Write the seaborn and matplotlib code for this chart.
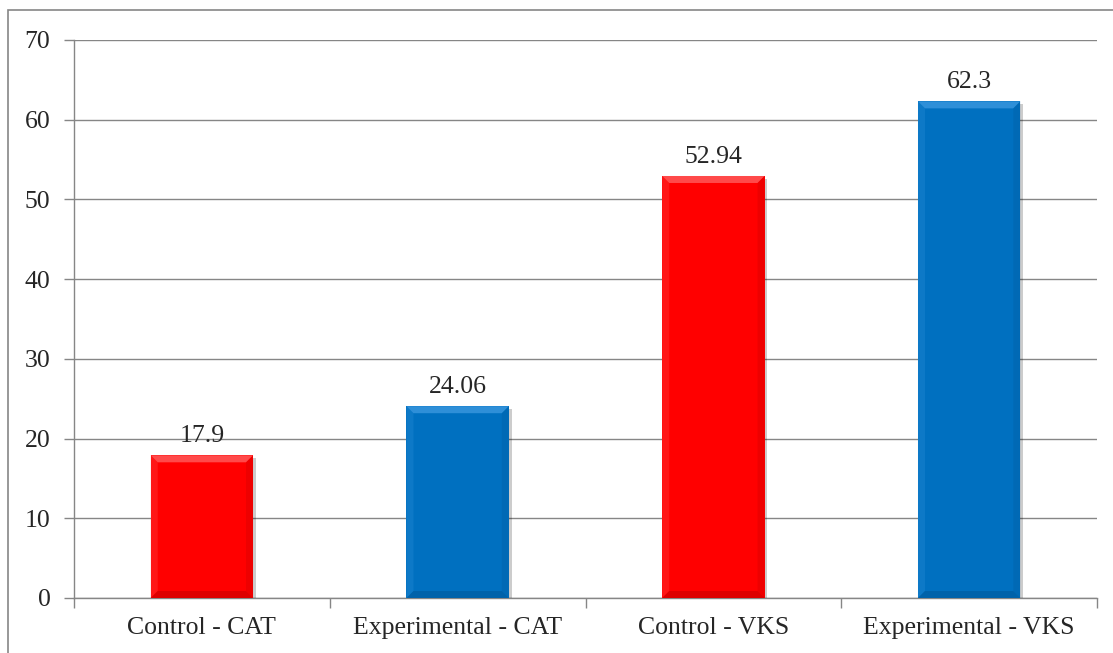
import matplotlib
matplotlib.use("Agg")
import matplotlib.pyplot as plt
import matplotlib.patheffects as pe
from matplotlib.patches import Rectangle, Polygon
from matplotlib.transforms import IdentityTransform
import pandas as pd
import seaborn as sns

# Chart data
groups = ["Control - CAT", "Experimental - CAT", "Control - VKS", "Experimental - VKS"]
scores = [17.9, 24.06, 52.94, 62.3]
labels = ["17.9", "24.06", "52.94", "62.3"]
bar_colors = ["#FF0000", "#0070C0", "#FF0000", "#0070C0"]
light_colors = ["#FF4A4A", "#2E8FD8", "#FF4A4A", "#2E8FD8"]
dark_colors = ["#C80000", "#005A9C", "#C80000", "#005A9C"]

df = pd.DataFrame({"group": groups, "score": scores})

sns.set_style("white")
plt.rcParams["font.family"] = ["Liberation Serif", "DejaVu Serif"]

fig = plt.figure(figsize=(11.13, 6.53), dpi=100)
ax = fig.add_axes([74 / 1113, 1 - 598 / 653, (1097 - 74) / 1113, (598 - 40) / 653])

sns.barplot(data=df, x="group", y="score", hue="group", palette=bar_colors,
            legend=False, width=0.4, ax=ax, saturation=1, zorder=3,
            edgecolor="none")

for p in ax.patches:
    p.set_path_effects([pe.SimplePatchShadow(offset=(2, -2), shadow_rgbFace="#000000", alpha=0.2),
                        pe.Normal()])

ax.set_ylim(0, 70)
ax.set_xlim(-0.5, 3.5)
ax.set_yticks(range(0, 71, 10))
ax.yaxis.grid(True, color="#868686", linewidth=1.0, zorder=0)
ax.set_axisbelow(True)
ax.set_xlabel("")
ax.set_ylabel("")

# tick marks between categories, like the original
ax.set_xticks([-0.5, 0.5, 1.5, 2.5, 3.5], minor=True)
ax.tick_params(axis="x", which="major", length=0, pad=14, labelsize=18.5)
ax.tick_params(axis="x", which="minor", length=7, width=1, color="#868686", direction="out", bottom=True)
ax.tick_params(axis="y", length=7, width=1, color="#868686", direction="out", left=True,
               pad=10, labelsize=18.5)

for side in ["top", "right"]:
    ax.spines[side].set_visible(False)
for side in ["left", "bottom"]:
    ax.spines[side].set_color("#868686")
    ax.spines[side].set_linewidth(1.0)

for c, lab in zip(ax.containers, [[l] for l in labels]):
    ax.bar_label(c, labels=lab, padding=6, fontsize=18.5)

# bevel highlight on each bar, derived from the drawn patches
fig.canvas.draw()
bev = 7
for p, lc, dc in zip(ax.patches, light_colors, dark_colors):
    bb = p.get_window_extent()
    x0, y0, x1, y1 = bb.x0, bb.y0, bb.x1, bb.y1
    top = Polygon([(x0, y1), (x1, y1), (x1 - bev, y1 - bev), (x0 + bev, y1 - bev)],
                  closed=True, facecolor=lc, edgecolor="none", transform=IdentityTransform(), zorder=4)
    left = Polygon([(x0, y1), (x0 + bev, y1 - bev), (x0 + bev, y0 + bev), (x0, y0)],
                   closed=True, facecolor=lc, edgecolor="none", alpha=0.3,
                   transform=IdentityTransform(), zorder=4)
    right = Polygon([(x1, y1), (x1 - bev, y1 - bev), (x1 - bev, y0 + bev), (x1, y0)],
                    closed=True, facecolor=dc, edgecolor="none", alpha=0.3,
                    transform=IdentityTransform(), zorder=4)
    bottom = Polygon([(x0, y0), (x1, y0), (x1 - bev, y0 + bev), (x0 + bev, y0 + bev)],
                     closed=True, facecolor=dc, edgecolor="none", alpha=0.6,
                     transform=IdentityTransform(), zorder=4)
    for poly in (top, left, right, bottom):
        ax.add_artist(poly)

# outer chart border (only left and top show in the original crop)
fig.patches.append(Rectangle((8 / 1113, -0.2), 1.2, 1 - 10 / 653 + 0.2, transform=fig.transFigure,
                             fill=False, edgecolor="#868686", linewidth=1.2))

fig.savefig("out.png", dpi=100)
